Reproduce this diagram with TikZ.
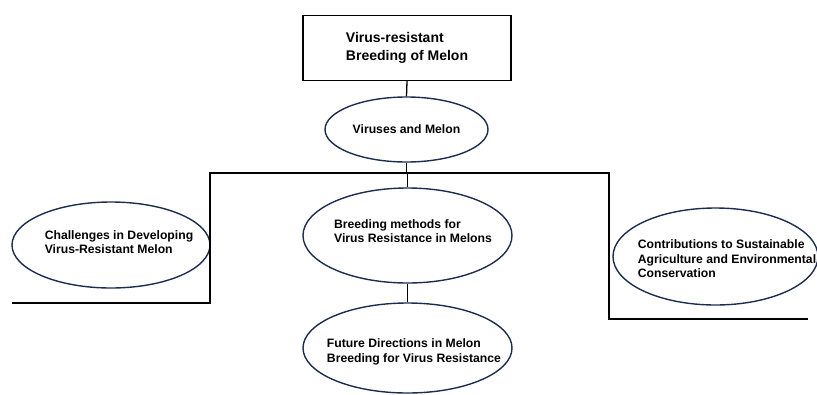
\documentclass[tikz,border=0pt]{standalone}
\usepackage{fontspec}
\setmainfont{Liberation Sans}
\usetikzlibrary{shapes}
\definecolor{navy}{RGB}{30,44,82}
\tikzset{
  bubble/.style={ellipse, draw=navy, line width=1.4pt, inner sep=0pt},
  caption/.style={align=left, inner sep=0pt, font=\bfseries\fontsize{12.2}{14.5}\selectfont},
  wire/.style={line width=1.3pt}
}
\begin{document}
\begin{tikzpicture}[x=1pt,y=-1pt]
\useasboundingbox (0,0) rectangle (817,394);
\node[draw, line width=1.3pt, minimum width=208pt, minimum height=65pt, align=left, font=\bfseries\fontsize{14}{18}\selectfont] (title) at (407,48) {Virus-resistant\\ Breeding of Melon};
\node[bubble, caption, minimum width=163pt, minimum height=65pt] (viruses) at (406.5,129.5) {Viruses and Melon};
\node[bubble, minimum width=198pt, minimum height=86pt] (challenges) at (111,245) {};
\node[caption] (challengestxt) at (119,242) {Challenges in Developing\\ Virus-Resistant Melon};
\node[bubble, minimum width=209pt, minimum height=95pt] (breeding) at (407.5,235.5) {};
\node[caption] (breedingtxt) at (413,231) {Breeding methods for\\ Virus Resistance in Melons};
\node[bubble, minimum width=205pt, minimum height=97pt] (contrib) at (715.5,256.5) {};
\node[caption] (contribtxt) at (727,259) {Contributions to Sustainable\\Agriculture and Environmental\\Conservation};
\node[bubble, minimum width=209pt, minimum height=90pt] (future) at (407.5,348) {};
\node[caption] (futuretxt) at (414,352) {Future Directions in Melon\\Breeding for Virus Resistance};
\coordinate (busL) at (210,173);
\coordinate (busR) at (609,173);
\coordinate (legL) at (210,303);
\coordinate (endL) at (12,303);
\coordinate (legR) at (609,319);
\coordinate (endR) at (808,319);
\draw[wire] (title.south) -- (viruses.north);
\draw[wire] (viruses.south) -- (viruses.south |- busL);
\draw[wire] (endL) -- (legL) -- (busL) -- (busR) -- (legR) -- (endR);
\draw[wire] (breeding.north |- busL) -- (breeding.north);
\draw[wire] (breeding.south) -- (future.north);
\end{tikzpicture}
\end{document}
